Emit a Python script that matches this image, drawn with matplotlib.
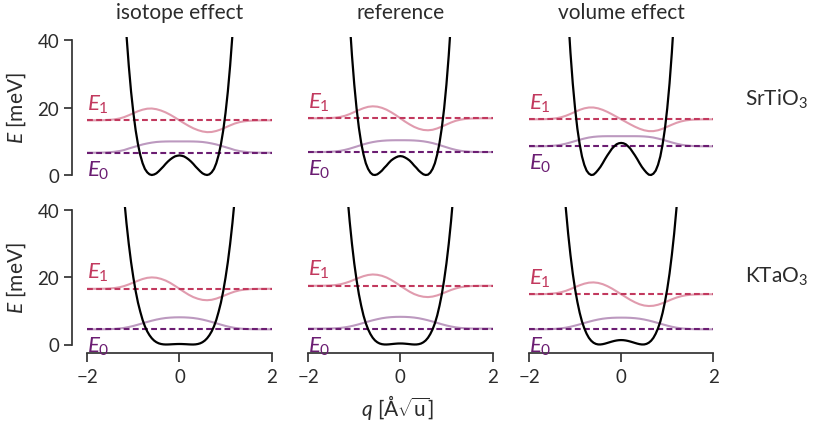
import numpy as np
import matplotlib
matplotlib.use("Agg")
import matplotlib.pyplot as plt

plt.rcParams["font.family"] = ["Lato", "DejaVu Sans"]
plt.rcParams["mathtext.fontset"] = "custom"
plt.rcParams["mathtext.rm"] = "Lato"
plt.rcParams["mathtext.it"] = "Lato:italic"
plt.rcParams["mathtext.bf"] = "Lato:bold"

# ---------------------------------------------------------------- data
columns = ["isotope effect", "reference", "volume effect"]
materials = ["SrTiO$_3$", "KTaO$_3$"]

# eigen-energies of the two lowest states [meV], rows: SrTiO3, KTaO3
E0_levels = [[6.6, 6.8, 8.5],
             [4.5, 4.7, 4.5]]
E1_levels = [[16.2, 16.8, 16.5],
             [16.5, 17.4, 14.9]]

# potential on the half axis q >= 0 (symmetric in q) [meV]
q_pot = np.linspace(0.0, 1.25, 26)
V_sto_iso = [5.8, 5.7, 5.5, 5.1, 4.6, 4.0, 3.3, 2.5, 1.8, 1.1, 0.5, 0.15, 0.0,
             0.2, 0.8, 1.8, 3.5, 5.9, 9.1, 13.2, 18.4, 24.7, 32.4, 41.5, 52.3, 64.8]
V_sto_ref = [5.6, 5.5, 5.2, 4.8, 4.3, 3.6, 2.8, 2.1, 1.3, 0.7, 0.2, 0.0, 0.1,
             0.7, 1.8, 3.5, 6.1, 9.5, 14.0, 19.7, 26.8, 35.4, 45.7, 57.9, 72.2, 88.8]
V_sto_vol = [9.5, 9.4, 9.1, 8.5, 7.8, 6.8, 5.8, 4.7, 3.5, 2.4, 1.5, 0.7, 0.1,
             0.0, 0.4, 1.3, 3.0, 5.5, 9.1, 13.7, 19.7, 27.1, 36.2, 47.1, 60.1, 75.2]
V_kto_iso = [0.15, 0.14, 0.11, 0.08, 0.04, 0.01, 0.0, 0.04, 0.15, 0.35, 0.68, 1.16, 1.84,
             2.75, 3.9, 5.4, 7.3, 9.7, 12.4, 15.8, 19.8, 24.4, 29.8, 36.0, 43.2, 51.3]
V_kto_ref = [0.30, 0.29, 0.24, 0.18, 0.11, 0.04, 0.0, 0.01, 0.10, 0.30, 0.66, 1.2, 2.0,
             3.1, 4.5, 6.3, 8.6, 11.5, 14.9, 19.1, 24.0, 29.8, 36.5, 44.3, 53.3, 63.4]
V_kto_vol = [1.31, 1.28, 1.19, 1.05, 0.87, 0.67, 0.46, 0.26, 0.10, 0.01, 0.02, 0.18, 0.53,
             1.11, 1.97, 3.2, 4.8, 6.8, 9.4, 12.6, 16.4, 21.0, 26.5, 32.8, 40.2, 48.7]

# wavefunctions drawn on top of their level, half axis q >= 0 [meV offset]
q_wave = np.linspace(0.0, 2.0, 21)
psi0_sto_iso = [3.35, 3.35, 3.35, 3.33, 3.28, 3.18, 3.0, 2.75, 2.45, 2.05, 1.65,
                1.25, 0.8, 0.5, 0.3, 0.16, 0.08, 0.03, 0.01, 0.0, 0.0]
psi0_sto_ref = [3.5, 3.5, 3.48, 3.43, 3.33, 3.18, 2.95, 2.65, 2.28, 1.85, 1.42,
                1.0, 0.65, 0.38, 0.2, 0.1, 0.04, 0.015, 0.0, 0.0, 0.0]
psi0_sto_vol = [3.0, 3.0, 3.0, 3.0, 2.98, 2.92, 2.8, 2.6, 2.3, 1.95, 1.55,
                1.15, 0.78, 0.48, 0.27, 0.14, 0.06, 0.02, 0.01, 0.0, 0.0]
psi0_kto_iso = [3.56, 3.54, 3.47, 3.35, 3.15, 2.88, 2.55, 2.18, 1.78, 1.38, 1.0,
                0.68, 0.42, 0.24, 0.12, 0.06, 0.03, 0.01, 0.0, 0.0, 0.0]
psi0_kto_ref = [3.5, 3.48, 3.41, 3.28, 3.08, 2.8, 2.47, 2.1, 1.7, 1.3, 0.94,
                0.63, 0.39, 0.22, 0.11, 0.05, 0.02, 0.01, 0.0, 0.0, 0.0]
psi0_kto_vol = [3.46, 3.45, 3.4, 3.3, 3.14, 2.9, 2.6, 2.25, 1.87, 1.47, 1.1,
                0.76, 0.49, 0.29, 0.16, 0.08, 0.04, 0.02, 0.01, 0.0, 0.0]

# first excited state: antisymmetric, listed as its magnitude for q >= 0
psi1_sto_iso = [0.0, 0.85, 1.65, 2.35, 2.9, 3.3, 3.5, 3.45, 3.15, 2.7, 2.1,
                1.5, 0.95, 0.55, 0.3, 0.15, 0.07, 0.03, 0.01, 0.0, 0.0]
psi1_sto_ref = [0.0, 0.95, 1.8, 2.55, 3.1, 3.45, 3.55, 3.4, 3.0, 2.45, 1.85,
                1.25, 0.75, 0.42, 0.2, 0.09, 0.04, 0.01, 0.0, 0.0, 0.0]
psi1_sto_vol = [0.0, 0.75, 1.5, 2.2, 2.8, 3.25, 3.5, 3.5, 3.25, 2.8, 2.2,
                1.6, 1.05, 0.62, 0.33, 0.16, 0.07, 0.03, 0.01, 0.0, 0.0]
psi1_kto_iso = [0.0, 0.9, 1.75, 2.45, 2.95, 3.28, 3.38, 3.25, 2.9, 2.4, 1.85,
                1.3, 0.82, 0.47, 0.25, 0.12, 0.05, 0.02, 0.01, 0.0, 0.0]
psi1_kto_ref = [0.0, 0.9, 1.75, 2.45, 2.95, 3.25, 3.35, 3.2, 2.85, 2.35, 1.8,
                1.25, 0.8, 0.45, 0.23, 0.11, 0.05, 0.02, 0.01, 0.0, 0.0]
psi1_kto_vol = [0.0, 0.85, 1.68, 2.4, 2.98, 3.35, 3.5, 3.42, 3.12, 2.65, 2.1,
                1.52, 1.0, 0.6, 0.33, 0.17, 0.08, 0.03, 0.01, 0.0, 0.0]

potentials = [[V_sto_iso, V_sto_ref, V_sto_vol],
              [V_kto_iso, V_kto_ref, V_kto_vol]]
psi0s = [[psi0_sto_iso, psi0_sto_ref, psi0_sto_vol],
         [psi0_kto_iso, psi0_kto_ref, psi0_kto_vol]]
psi1s = [[psi1_sto_iso, psi1_sto_ref, psi1_sto_vol],
         [psi1_kto_iso, psi1_kto_ref, psi1_kto_vol]]


def full_axis(q_half, v_half, odd=False):
    """Extend a half-axis profile to negative q."""
    q = np.asarray(q_half)
    v = np.asarray(v_half, dtype=float)
    q_full = np.concatenate([-q[:0:-1], q])
    if odd:
        v_full = np.concatenate([v[:0:-1], -v])
    else:
        v_full = np.concatenate([v[:0:-1], v])
    return q_full, v_full


# ---------------------------------------------------------------- style
c_E0 = "#6b1d72"
c_E1 = "#c2395e"
ink = "#2b2b2b"
spine_c = "#333333"
fs = 15

W, H = 814, 427
fig = plt.figure(figsize=(W / 100, H / 100), dpi=100)

col_left_px = [87.3, 308.2, 529.0]
col_w_px = 184.3
ylim = (-2.6, 40.85)
px_per_meV = 3.375
row_zero_px = [176.0, 345.5]

for r in range(2):
    for c in range(3):
        top_px = row_zero_px[r] - ylim[1] * px_per_meV
        bot_px = row_zero_px[r] - ylim[0] * px_per_meV
        ax = fig.add_axes([col_left_px[c] / W, 1 - bot_px / H,
                           col_w_px / W, (bot_px - top_px) / H])
        ax.set_xlim(-2, 2)
        ax.set_ylim(*ylim)

        E0 = E0_levels[r][c]
        E1 = E1_levels[r][c]

        qw, p0 = full_axis(q_wave, psi0s[r][c])
        _, p1 = full_axis(q_wave, psi1s[r][c], odd=True)
        ax.plot(qw, E1 + p1, color=c_E1, alpha=0.5, lw=1.5, zorder=1)
        ax.plot(qw, E0 + p0, color=c_E0, alpha=0.45, lw=1.5, zorder=1)

        ax.plot([-2, 2], [E1, E1], color=c_E1, lw=1.5, zorder=2,
                dashes=(2.8, 1.6))
        ax.plot([-2, 2], [E0, E0], color=c_E0, lw=1.5, zorder=2,
                dashes=(2.8, 1.6))

        qp, V = full_axis(q_pot, potentials[r][c])
        ax.plot(qp, V, color="black", lw=1.6, zorder=3)

        ax.text(-2, E1 + 1.6, r"$E_1$", color=c_E1, fontsize=16,
                ha="left", va="bottom")
        ax.text(-2, E0 - 1.7, r"$E_0$", color=c_E0, fontsize=16,
                ha="left", va="top")

        for s in ("top", "right"):
            ax.spines[s].set_visible(False)
        ax.patch.set_visible(False)

        if c == 0:
            ax.spines["left"].set_position(("outward", 11.2))
            ax.spines["left"].set_bounds(0, 40)
            ax.spines["left"].set_color(spine_c)
            ax.spines["left"].set_linewidth(1.25)
            ax.set_yticks([0, 20, 40])
            ax.tick_params(axis="y", length=6, width=1.25, color=spine_c,
                           labelsize=13.5, labelcolor=ink, pad=3)
        else:
            ax.spines["left"].set_visible(False)
            ax.set_yticks([])

        if r == 1:
            ax.spines["bottom"].set_bounds(-2, 2)
            ax.spines["bottom"].set_color(spine_c)
            ax.spines["bottom"].set_linewidth(1.25)
            ax.set_xticks([-2, 0, 2])
            ax.set_xticklabels(["\u22122", "0", "2"])
            ax.tick_params(axis="x", length=6.5, width=1.25, color=spine_c,
                           labelsize=13.5, labelcolor=ink, pad=4)
        else:
            ax.spines["bottom"].set_visible(False)
            ax.set_xticks([])

# column titles
for c, title in enumerate(columns):
    cx = (col_left_px[c] + col_w_px / 2) / W
    fig.text(cx, 1 - 13 / H, title, ha="center", va="center",
             fontsize=fs, color=ink)

# material labels on the right
fig.text(745 / W, 1 - 106 / H, materials[0], ha="left", va="baseline",
         fontsize=fs, color=ink)
fig.text(745 / W, 1 - 283 / H, materials[1], ha="left", va="baseline",
         fontsize=fs, color=ink)

# y-axis labels
for r in range(2):
    yc = row_zero_px[r] - 20 * px_per_meV
    fig.text(16 / W, 1 - yc / H, r"$E$ [meV]", rotation=90,
             ha="center", va="center", fontsize=fs, color=ink)

# x-axis label
fig.text(398 / W, 1 - 408 / H, r"$q$ [Å$\sqrt{\mathrm{u}}$]",
         ha="center", va="center", fontsize=fs, color=ink)

fig.savefig("out.png", dpi=100)
